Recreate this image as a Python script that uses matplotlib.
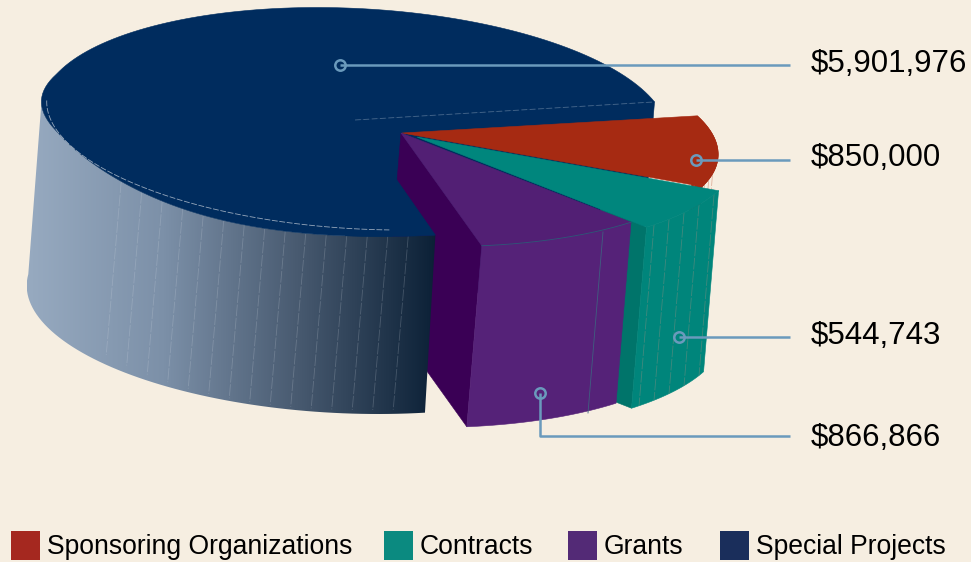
import numpy as np
import matplotlib
matplotlib.use("Agg")
import matplotlib.pyplot as plt
from matplotlib.colors import LinearSegmentedColormap
from matplotlib.patches import Polygon, Rectangle

# ---- data ----
categories = ["Sponsoring Organizations", "Contracts", "Grants", "Special Projects"]
values = [850000, 544743, 866866, 5901976]
value_labels = ["$850,000", "$544,743", "$866,866", "$5,901,976"]

# ---- style / layout (pixel space of the 971x562 canvas) ----
BG = "#F6EEE1"
LINE = "#6A9ABC"
legend_colors = ["#A5281F", "#0B8A80", "#532A76", "#1A2E5B"]
top_colors = ["#A62A12", "#00867D", "#521F74", "#002C5E"]
wall_colors = ["#A02A12", "#00857B", "#552278", None]
cut_colors = ["#8E2410", "#00746A", "#3A0055", "#002C5E"]
START_ANGLE = -9.5
DROP = np.array([-15.0, 181.0])
BLUE_DROP = np.array([-15.0, 177.5])

# per slice projection: arc centre, wedge apex, x half-axis, (shear, y half-axis), angle nudges
geom = [
    dict(c=(466, 142), apex=(402, 133), ux=250, v=(33, 95), adj=(-6.5, 0), warp=0),
    dict(c=(427.5, 137), apex=(417, 137), ux=311, v=(35, 114.5), adj=(0, 0), warp=0),
    dict(c=(412, 132), apex=(401, 133), ux=311, v=(35, 114.5), adj=(0, -6.7), warp=0),
    dict(c=(355, 122), apex=(355, 120), ux=311, v=(38, 114.5), adj=(-9.0, -0.6), warp=14),
]
legend_x = [11, 384, 568, 720]
callouts = {  # slice index: anchor, elbow, end, label y
    3: ((340, 65), None, (790, 65), 63.5),
    0: ((696, 160), None, (790, 160), 158.5),
    1: ((679, 337), None, (790, 337), 335.5),
    2: ((540, 393), (540, 436), (790, 436), 438.5),
}

plt.rcParams["font.family"] = ["Liberation Sans", "DejaVu Sans"]
fig = plt.figure(figsize=(9.71, 5.62), dpi=100, facecolor=BG)
ax = fig.add_axes([0, 0, 1, 1])
ax.set_xlim(0, 971)
ax.set_ylim(562, 0)
ax.axis("off")

shares = np.array(values, dtype=float) / sum(values) * 360.0
bounds = START_ANGLE + np.concatenate([[0], np.cumsum(shares)])


def arc(i, n=160, warped=True):
    g = geom[i]
    deg = np.linspace(bounds[i] + g["adj"][0], bounds[i + 1] + g["adj"][1], n)
    a = np.radians(deg)
    x = g["c"][0] + g["ux"] * np.cos(a) + g["v"][0] * np.sin(a)
    if warped:
        # flattening of the near-left rim caused by the chart's perspective
        fade = np.interp(deg, [70, 92, 175, 205], [0, 1, 1, 0])
        x = x + g["warp"] * fade * np.cos(3 * np.radians(deg - 158))
    y = g["c"][1] + g["v"][1] * np.sin(a)
    return np.column_stack([x, y])


def poly(pts, color, z, **kw):
    ax.add_patch(Polygon(pts, closed=True, facecolor=color, edgecolor=kw.pop("ec", color),
                         linewidth=kw.pop("lw", 0.4), zorder=z, **kw))


def cut_face(p, q, color, z):
    p, q = np.array(p, float), np.array(q, float)
    poly([p, q, q + DROP, p + DROP], color, z)


def mesh(pts, step, color, alpha, z, drop=DROP):
    idx = np.argsort(pts[:, 0])
    xs = np.arange(pts[:, 0].min() + step / 2, pts[:, 0].max(), step)
    ys = np.interp(xs, pts[idx, 0], pts[idx, 1])
    for x, y in zip(xs, ys):
        ax.plot([x, x + drop[0]], [y, y + drop[1]], color=color, alpha=alpha, lw=0.6,
                ls=(0, (14, 2)), zorder=z)


arcs = [arc(i) for i in range(4)]
apex = [np.array(g["apex"], float) for g in geom]

# blue cut face and the dark purple cut face lie behind the gradient wall
cut_face(apex[3], arcs[3][-1], top_colors[3], 1)
cut_face(apex[2], arcs[2][-1], cut_colors[2], 2)

# blue gradient wall (visible part: near half of the arc; the base rim is a plain ellipse)
blue = arcs[3]
blue_base = arc(3, warped=False) + BLUE_DROP
blue_deg = np.linspace(bounds[3] + geom[3]["adj"][0], bounds[4] + geom[3]["adj"][1], len(blue))
front = blue[blue_deg < 194]
base = blue_base[blue_deg < 194]
wall = np.vstack([front, base[::-1]])
clip = Polygon(wall, closed=True, transform=ax.transData, facecolor="none", edgecolor="none")
ax.add_patch(clip)
cmap = LinearSegmentedColormap.from_list("w", ["#97AAC0", "#7C90A8", "#47596F", "#0B2036"])
im = ax.imshow(np.linspace(0, 1, 256)[None, :], extent=(27, 437, 562, 0), cmap=cmap, aspect="auto",
               zorder=3)
im.set_clip_path(clip)
ax.set_xlim(0, 971)
ax.set_ylim(562, 0)
mesh(front[(front[:, 0] > 110) & (front[:, 0] < 420)], 20.5, "#D8DEE6", 0.22, 3.5,
     drop=BLUE_DROP - np.array([0, 4]))

# blue top
poly(np.vstack([apex[3], blue]), top_colors[3], 4)
t = np.radians(np.linspace(189, 92, 90))
ax.plot(355 + 305 * np.cos(t) + 45 * np.sin(t), 118 + 112 * np.sin(t), color="#C8D0DA", lw=0.6,
        alpha=0.75, ls=(0, (7, 2)), zorder=4.5)
ax.plot([apex[3][0], blue[-1][0]], [apex[3][1], blue[-1][1]], color="#6F8AA8", lw=0.6, alpha=0.6,
        ls=(0, (7, 3)), zorder=4.5)

# red and teal: wall, mesh, top
for i, z in ((0, 5), (1, 7)):
    a = arcs[i]
    if i == 1:
        # only the sliver beside the arc end shows, the rest sits behind the grants slice
        cut_face(a[-1] + 0.2 * (apex[1] - a[-1]), a[-1], cut_colors[1], z - 0.5)
    poly(np.vstack([a, (a + DROP)[::-1]]), wall_colors[i], z)
    mesh(a, 15 if i == 1 else 5, "#6B8C7F" if i == 1 else "#D08A70", 0.6, z + 0.2)
    poly(np.vstack([apex[i], a]), top_colors[i], z + 0.5)

# purple
a = arcs[2]
poly(np.vstack([a, (a + DROP)[::-1]]), wall_colors[2], 9)
ax.plot([603, 603 + DROP[0]], [232, 232 + DROP[1]], color="#3F5F80", lw=0.6, zorder=9.2)
poly(np.vstack([apex[2], a]), top_colors[2], 9.5)
ax.plot(a[:, 0], a[:, 1], color="#2F5878", lw=0.6, zorder=9.6)

# callouts and value labels
for i, (start, elbow, end, ly) in callouts.items():
    pts = [start] + ([elbow] if elbow else []) + [end]
    xs, ys = zip(*pts)
    ax.plot(xs, ys, color=LINE, lw=1.8, zorder=12, solid_capstyle="butt")
    ax.plot(*start, "o", ms=7.5, mfc="none", mec=LINE, mew=1.8, zorder=13)
    ax.text(811, ly, value_labels[i], fontsize=22.5, color="black", va="center", ha="left", zorder=14)

# legend
for x, name, col in zip(legend_x, categories, legend_colors):
    ax.add_patch(Rectangle((x, 531), 29, 29, facecolor=col, edgecolor="none", zorder=10))
    ax.text(x + 36, 546.5, name, fontsize=19.1, color="black", va="center", ha="left", zorder=10)

fig.savefig("out.png", dpi=100, facecolor=BG)
